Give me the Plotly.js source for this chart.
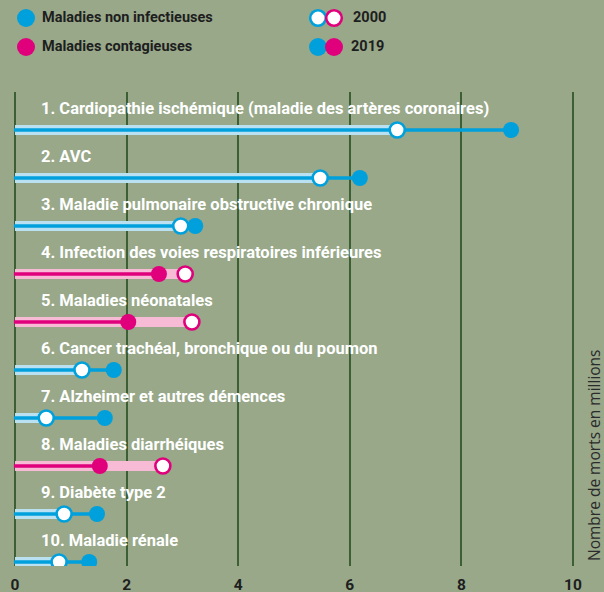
<!DOCTYPE html>
<html><head><meta charset="utf-8">
<script src="https://cdn.plot.ly/plotly-3.0.1.min.js"></script>
<style>html,body{margin:0;padding:0;background:#98a889;}</style>
</head><body>
<div id="chart" style="width:604px;height:592px;"></div>
<script>
const categories = [
  "1. Cardiopathie ischémique (maladie des artères coronaires)",
  "2. AVC",
  "3. Maladie pulmonaire obstructive chronique",
  "4. Infection des voies respiratoires inférieures",
  "5. Maladies néonatales",
  "6. Cancer trachéal, bronchique ou du poumon",
  "7. Alzheimer et autres démences",
  "8. Maladies diarrhéiques",
  "9. Diabète type 2",
  "10. Maladie rénale"
];
const diseaseType = ["nc","nc","nc","c","c","nc","nc","c","nc","nc"];
const deaths2000 = [6.85, 5.47, 2.97, 3.05, 3.17, 1.20, 0.56, 2.65, 0.88, 0.79];
const deaths2019 = [8.89, 6.18, 3.23, 2.58, 2.03, 1.77, 1.61, 1.52, 1.47, 1.33];
const xTicks = [0, 2, 4, 6, 8, 10];
const legendTypes = ["Maladies non infectieuses", "Maladies contagieuses"];
const legendYears = ["2000", "2019"];
const axisTitle = "Nombre de morts en millions";

const BG = "#98a889", GRID = "#3d5f35";
const COL = {nc: {dark: "#00a0dc", light: "#b9e1f2"}, c: {dark: "#e0007b", light: "#f8bbd5"}};
const FONT = "Roboto";

// geometry
const W0 = 604, H0 = 592;
const PX0 = 15, PX10 = 573, PLOT_TOP = 92, PLOT_BOT = 566;
const pxPerUnit = (PX10 - PX0) / 10;
const L = 10, R = 26;
const xr = [-(PX0 - L) / pxPerUnit, 10 + (W0 - R - PX10) / pxPerUnit];
const row1 = 130, row10 = 562;
const rowStep = (row10 - row1) / 9;
const yr = [-(10 + (PLOT_BOT - row10) / rowStep), -(1 - (row1 - PLOT_TOP) / rowStep)];
const plotW = W0 - L - R, plotH = PLOT_BOT - PLOT_TOP;
const pX = px => (px - L) / plotW;
const pY = py => (PLOT_BOT - py) / plotH;

const traces = [];
["nc", "c"].forEach(t => {
  const bx = [], by = [], lx = [], ly = [], m19x = [], m19y = [], m00x = [], m00y = [];
  categories.forEach((c, i) => {
    if (diseaseType[i] !== t) return;
    const y = -(i + 1);
    bx.push(0, deaths2000[i], null); by.push(y, y, null);
    lx.push(-0.02, deaths2019[i], null); ly.push(y, y, null);
    m19x.push(deaths2019[i]); m19y.push(y);
    m00x.push(deaths2000[i]); m00y.push(y);
  });
  traces.push({x: bx, y: by, mode: "lines", line: {color: COL[t].light, width: 10}, hoverinfo: "skip", showlegend: false});
  traces.push({x: lx, y: ly, mode: "lines", line: {color: COL[t].dark, width: 3.5}, hoverinfo: "skip", showlegend: false});
  traces.push({x: m19x, y: m19y, mode: "markers", marker: {size: 16, color: COL[t].dark}, showlegend: false});
  traces.push({x: m00x, y: m00y, mode: "markers", marker: {size: 15, color: "#ffffff", line: {color: COL[t].dark, width: 2.6}}, showlegend: false});
});

const annotations = categories.map((c, i) => ({
  x: 0.43, y: -(i + 1) + 22 / rowStep, xref: "x", yref: "y", text: "<b>" + c + "</b>",
  showarrow: false, xanchor: "left", yanchor: "middle",
  font: {family: FONT, size: 16.5, color: "#ffffff"}
}));
const legFont = {family: FONT, size: 14.5, color: "#1e1e1e"};
annotations.push({x: pX(40), y: pY(18), xref: "paper", yref: "paper", text: "<b>" + legendTypes[0] + "</b>", showarrow: false, xanchor: "left", yanchor: "middle", font: legFont});
annotations.push({x: pX(40), y: pY(47), xref: "paper", yref: "paper", text: "<b>" + legendTypes[1] + "</b>", showarrow: false, xanchor: "left", yanchor: "middle", font: legFont});
annotations.push({x: pX(351), y: pY(18), xref: "paper", yref: "paper", text: "<b>" + legendYears[0] + "</b>", showarrow: false, xanchor: "left", yanchor: "middle", font: legFont});
annotations.push({x: pX(349), y: pY(47), xref: "paper", yref: "paper", text: "<b>" + legendYears[1] + "</b>", showarrow: false, xanchor: "left", yanchor: "middle", font: legFont});
annotations.push({x: pX(594), y: pY(455), xref: "paper", yref: "paper", text: axisTitle, textangle: -90, showarrow: false, xanchor: "center", yanchor: "middle", font: {family: "Open Sans", size: 15.5, color: "#2b2b2b"}});

function circ(cx, cy, r, fill, line, lw) {
  return {type: "circle", xref: "paper", yref: "paper", xsizemode: "pixel", ysizemode: "pixel",
    xanchor: pX(cx), yanchor: pY(cy), x0: -r, x1: r, y0: -r, y1: r,
    fillcolor: fill, line: {color: line, width: lw}, layer: "above"};
}
const shapes = [
  circ(26, 18, 9, COL.nc.dark, COL.nc.dark, 0),
  circ(26, 47, 9, COL.c.dark, COL.c.dark, 0),
  circ(318, 18, 7.8, "#ffffff", COL.nc.dark, 2.6),
  circ(334, 18, 7.8, "#ffffff", COL.c.dark, 2.6),
  circ(318, 47, 9, COL.nc.dark, COL.nc.dark, 0),
  circ(334, 47, 9, COL.c.dark, COL.c.dark, 0)
];

const layout = {
  width: W0, height: H0,
  margin: {l: L, r: R, t: PLOT_TOP, b: H0 - PLOT_BOT, pad: 0},
  paper_bgcolor: BG, plot_bgcolor: BG,
  showlegend: false,
  xaxis: {range: xr, tickvals: xTicks, ticktext: xTicks.map(v => "<b>" + v + "</b>"),
    showgrid: true, gridcolor: GRID, gridwidth: 2, zeroline: false, showline: false, ticks: "",
    ticklabelstandoff: 7,
    tickfont: {family: FONT, size: 15.5, color: "#1e1e1e"}, fixedrange: true},
  yaxis: {range: yr, showgrid: false, zeroline: false, showticklabels: false, showline: false, fixedrange: true},
  annotations: annotations, shapes: shapes
};
Plotly.newPlot("chart", traces, layout, {displayModeBar: false, staticPlot: true});
</script>
</body></html>
